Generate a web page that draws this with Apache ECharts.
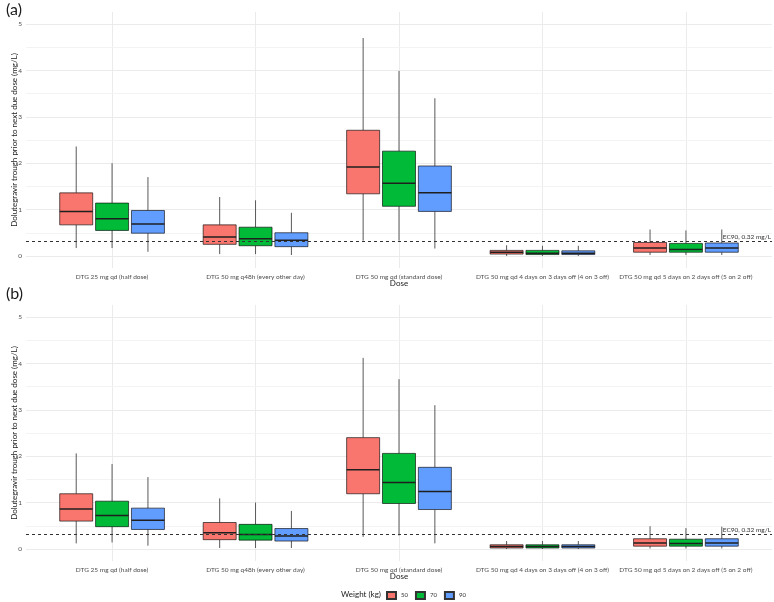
<!DOCTYPE html>
<html>
<head>
<meta charset="utf-8">
<script src="https://cdn.jsdelivr.net/npm/echarts@6/dist/echarts.min.js"></script>
<style>
  html, body { margin: 0; padding: 0; background: #fff; }
  #chart { width: 774px; height: 602px; }
</style>
</head>
<body>
<div id="chart"></div>
<script>
const doses = [
  'DTG 25 mg qd (half dose)',
  'DTG 50 mg q48h (every other day)',
  'DTG 50 mg qd (standard dose)',
  'DTG 50 mg qd 4 days on 3 days off (4 on 3 off)',
  'DTG 50 mg qd 5 days on 2 days off (5 on 2 off)'
]
const weights = ['50', '70', '90']
const colors = ['#F8766D', '#00BA38', '#619CFF']
const ec90 = 0.32
const minorBreaks = [0.5, 1.5, 2.5, 3.5, 4.5]

// each row: [lower whisker, Q1, median, Q3, upper whisker], one row per dose
const panelA50 = [[0.17, 0.67, 0.96, 1.36, 2.36], [0.04, 0.25, 0.41, 0.67, 1.27], [0.33, 1.34, 1.92, 2.71, 4.70], [0.00, 0.04, 0.08, 0.12, 0.23], [0.02, 0.08, 0.17, 0.29, 0.57]]
const panelA70 = [[0.17, 0.55, 0.80, 1.14, 2.00], [0.04, 0.22, 0.37, 0.62, 1.20], [0.33, 1.07, 1.57, 2.26, 3.99], [0.00, 0.03, 0.06, 0.12, 0.22], [0.02, 0.08, 0.14, 0.27, 0.55]]
const panelA90 = [[0.09, 0.49, 0.69, 0.98, 1.70], [0.02, 0.20, 0.34, 0.50, 0.93], [0.16, 0.96, 1.36, 1.94, 3.40], [0.00, 0.03, 0.06, 0.11, 0.22], [0.02, 0.08, 0.17, 0.28, 0.57]]
const panelB50 = [[0.12, 0.60, 0.86, 1.19, 2.06], [0.02, 0.20, 0.35, 0.57, 1.09], [0.26, 1.19, 1.71, 2.40, 4.12], [0.00, 0.02, 0.05, 0.09, 0.17], [0.01, 0.06, 0.13, 0.22, 0.49]]
const panelB70 = [[0.14, 0.48, 0.72, 1.03, 1.83], [0.02, 0.19, 0.31, 0.53, 1.00], [0.29, 0.98, 1.43, 2.06, 3.66], [0.00, 0.02, 0.05, 0.09, 0.17], [0.01, 0.06, 0.12, 0.21, 0.45]]
const panelB90 = [[0.07, 0.42, 0.62, 0.88, 1.55], [0.02, 0.17, 0.28, 0.44, 0.82], [0.12, 0.85, 1.24, 1.76, 3.10], [0.00, 0.02, 0.05, 0.09, 0.17], [0.01, 0.06, 0.13, 0.22, 0.48]]

const panels = [[panelA50, panelA70, panelA90], [panelB50, panelB70, panelB90]]
const font = 'Lato'

function boxRenderer(g) {
  return function (params, api) {
    const x = api.value(0)
    const band = api.size([1, 0])[0]
    const cx = api.coord([x, 0])[0] + (g - 1) * band * 0.25
    const w = band * 0.23
    const y = (i) => api.coord([x, api.value(i)])[1]
    const low = y(1), q1 = y(2), med = y(3), q3 = y(4), high = y(5)
    const whisker = { stroke: '#595959', lineWidth: 1 }
    return {
      type: 'group',
      children: [
        { type: 'line', shape: { x1: cx, y1: high, x2: cx, y2: q3 }, style: whisker },
        { type: 'line', shape: { x1: cx, y1: q1, x2: cx, y2: low }, style: whisker },
        { type: 'rect', shape: { x: cx - w / 2, y: q3, width: w, height: q1 - q3 },
          style: { fill: colors[g], stroke: 'rgba(0,0,0,0.62)', lineWidth: 1 } },
        { type: 'line', shape: { x1: cx - w / 2, y1: med, x2: cx + w / 2, y2: med },
          style: { stroke: '#1f1f1f', lineWidth: 1.5 } }
      ]
    }
  }
}

let grids = [
  { left: 26, right: 2, top: 12, height: 256, containLabel: false, outerBoundsMode: 'none' },
  { left: 26, right: 2, top: 305, height: 256, containLabel: false, outerBoundsMode: 'none' }
]

let xAxes = grids.map((gr, i) => ({
  type: 'value', gridIndex: i, min: 0.4, max: 5.6,
  name: 'Dose', nameLocation: 'middle', nameGap: 11, nameMoveOverlap: false,
  nameTextStyle: { fontFamily: font, fontSize: 8, color: '#1a1a1a' },
  axisLine: { show: false }, axisTick: { show: false },
  axisLabel: {
    fontFamily: font, fontSize: 6.5, color: '#4d4d4d', margin: 5,
    showMinLabel: false, showMaxLabel: false,
    formatter: (v) => Number.isInteger(v) ? doses[v - 1] : ''
  },
  splitLine: { show: true, showMinLine: false, showMaxLine: false, lineStyle: { color: '#ebebeb', width: 1 } }
}))

let yAxes = grids.map((gr, i) => ({
  type: 'value', gridIndex: i, min: -0.26, max: 5.26, splitNumber: 5,
  name: 'Dolutegravir trough prior to next due dose (mg/L)',
  nameLocation: 'middle', nameGap: 8, nameMoveOverlap: false,
  nameTextStyle: { fontFamily: font, fontSize: 8, color: '#1a1a1a' },
  axisLine: { show: false }, axisTick: { show: false },
  axisLabel: { fontFamily: font, fontSize: 6.5, color: '#4d4d4d', margin: 4, showMinLabel: false, showMaxLabel: false },
  splitLine: { show: true, showMinLine: false, showMaxLine: false, lineStyle: { color: '#ebebeb', width: 1 } }
}))

let series = []
panels.forEach((groups, p) => {
  // light minor gridlines behind the boxes
  series.push({
    type: 'line', xAxisIndex: p, yAxisIndex: p, data: [], z: 0, silent: true,
    markLine: {
      symbol: 'none', silent: true, z: 0, label: { show: false },
      lineStyle: { color: '#f3f3f3', width: 1, type: 'solid' },
      data: minorBreaks.map(v => ({ yAxis: v }))
    }
  })
  groups.forEach((rows, g) => {
    let s = {
      type: 'custom', name: weights[g], xAxisIndex: p, yAxisIndex: p,
      itemStyle: { color: colors[g], borderColor: '#333', borderWidth: 1 },
      renderItem: boxRenderer(g),
      encode: { x: 0, y: [1, 2, 3, 4, 5] },
      data: rows.map((r, i) => [i + 1].concat(r)),
      z: 2
    }
    if (g === 2) {
      s.markLine = {
        symbol: 'none', silent: true, z: 5,
        lineStyle: { color: '#333', width: 1, type: [3, 3] },
        label: { show: true, position: 'insideEndTop', distance: 1, formatter: 'EC90, 0.32 mg/L',
          fontFamily: font, fontSize: 6.5, color: '#333' },
        data: [{ yAxis: ec90 }]
      }
    }
    series.push(s)
  })
})

let chart = echarts.init(document.getElementById('chart'), null, { renderer: 'canvas' })
chart.setOption({
  animation: false,
  backgroundColor: '#fff',
  title: [
    { text: '(a)', left: 1, top: -3, textStyle: { fontFamily: font, fontSize: 16, fontWeight: 'normal', color: '#1a1a1a' } },
    { text: '(b)', left: 1, top: 281, textStyle: { fontFamily: font, fontSize: 16, fontWeight: 'normal', color: '#1a1a1a' } },
    { text: 'Weight (kg)', left: 336, top: 585, textStyle: { fontFamily: font, fontSize: 8, fontWeight: 'normal', color: '#1a1a1a' } }
  ],
  legend: {
    data: weights, left: 381, top: 586, icon: 'rect',
    itemWidth: 9, itemHeight: 7, itemGap: 7,
    textStyle: { fontFamily: font, fontSize: 6, color: '#333' }
  },
  grid: grids,
  xAxis: xAxes,
  yAxis: yAxes,
  series: series
})
</script>
</body>
</html>
